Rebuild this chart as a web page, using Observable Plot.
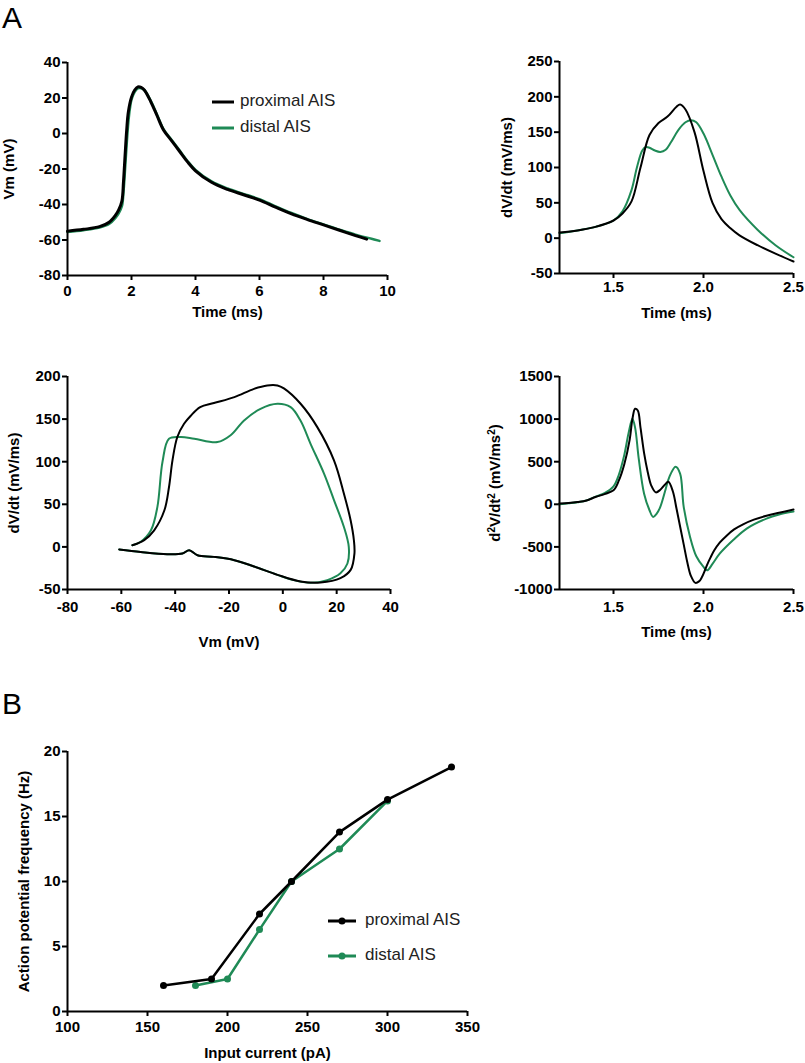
<!DOCTYPE html>
<html><head><meta charset="utf-8">
<script src="https://cdn.jsdelivr.net/npm/d3@7"></script>
<script src="https://cdn.jsdelivr.net/npm/@observablehq/plot@0.6"></script>
<style>
body{margin:0;background:#fff;}
#fig{position:relative;width:805px;height:1063px;font-family:"Liberation Sans",Arial,sans-serif;overflow:hidden;}
.lbl{position:absolute;font-size:30px;line-height:30px;color:#000;}
.leg{position:absolute;font-size:17px;line-height:20px;color:#222;white-space:nowrap;}
</style></head><body><div id="fig"></div><script>
// ---------- Panel A1: Vm vs time ----------
const vmTimeProx = [0, 0.5, 1.0, 1.3, 1.5, 1.6, 1.7, 1.75, 1.8, 1.85, 1.9, 2.0, 2.1, 2.2, 2.3, 2.4, 2.6, 2.8, 3.0, 3.25, 3.5, 3.75, 4.0, 4.5, 5.0, 5.5, 6.0, 6.5, 7.0, 7.5, 8.0, 8.5, 9.0, 9.35];
const vmProx = [-55, -54, -52.5, -50, -46, -43, -38, -27, -12, 2, 12, 20.5, 24.5, 26.3, 26, 24.5, 18, 10, 2, -4, -10, -16, -21, -27.5, -31.5, -34.5, -37.5, -41.5, -45.3, -48.5, -51.5, -54.5, -57.5, -59.5];
const vmTimeDist = [0, 0.5, 1.0, 1.3, 1.5, 1.6, 1.7, 1.75, 1.8, 1.85, 1.9, 1.95, 2.0, 2.1, 2.2, 2.3, 2.4, 2.6, 2.8, 3.0, 3.25, 3.5, 3.75, 4.0, 4.5, 5.0, 5.5, 6.0, 6.5, 7.0, 7.5, 8.0, 8.5, 9.0, 9.5, 9.75];
const vmDist = [-55.5, -54.5, -53, -51, -47.5, -45, -41, -33, -20, -6, 6, 14, 19, 23.5, 25.5, 25.5, 24.5, 18.5, 10.5, 2.5, -3.5, -9.5, -15.5, -20.5, -27, -31, -34, -37, -41, -44.8, -48.2, -51.2, -54.2, -57, -59.3, -60.5];
const vmXTicks = [0, 2, 4, 6, 8, 10];
const vmYTicks = [-80, -60, -40, -20, 0, 20, 40];

// ---------- Panel A2: dV/dt vs time ----------
const dvTimeProx = [1.2, 1.3, 1.4, 1.5, 1.55, 1.6, 1.65, 1.7, 1.75, 1.8, 1.85, 1.87, 1.9, 1.95, 2.0, 2.05, 2.1, 2.15, 2.2, 2.3, 2.4, 2.5];
const dvProx = [8, 11, 16, 25, 35, 52, 100, 146, 163, 172, 186, 189, 182, 150, 95, 50, 27, 14, 4, -10, -22, -33];
const dvTimeDist = [1.2, 1.3, 1.4, 1.5, 1.55, 1.6, 1.63, 1.66, 1.68, 1.7, 1.73, 1.76, 1.79, 1.82, 1.86, 1.9, 1.93, 1.96, 2.0, 2.05, 2.1, 2.15, 2.2, 2.3, 2.4, 2.5];
const dvDist = [7, 11, 16, 25, 38, 68, 100, 124, 129, 128, 124, 122, 125, 136, 153, 164, 167, 164, 148, 118, 87, 60, 40, 12, -10, -27];
const timeXTicks = [1.5, 2.0, 2.5];
const dvYTicks = [-50, 0, 50, 100, 150, 200, 250];

// ---------- Panel A3: phase plot ----------
const phVProx = [-55.9, -51.5, -47.8, -44, -42.3, -41, -39.2, -36.7, -34.2, -30.7, -25.6, -18, -10.7, -5.8, -2, 0.4, 6.6, 12.8, 19, 22.7, 25.2, 26.4, 26.6, 25.2, 21.4, 14, 6.6, -2, -10.7, -18, -25.6, -31.7, -34.8, -37.3, -43, -52.8, -60.8];
const phDProx = [2, 8, 19.5, 43, 70, 101.6, 129, 144.5, 154, 164, 168.8, 175.8, 185.5, 189.5, 189.5, 186, 168, 140.6, 101.6, 62.5, 31, 7.8, -7.8, -27, -36.7, -41.8, -40.6, -32.8, -23, -15.6, -11.7, -9.8, -4, -7.8, -8.6, -6, -3];
const phVDist = [-55.9, -52.8, -49, -46.6, -44.7, -42.3, -37.9, -32.9, -24.3, -19.4, -14.4, -8.3, -2, 2.9, 6.6, 10.3, 15.3, 19, 22.7, 24.5, 24, 21.4, 16.5, 10.3, 4, -2, -10.7, -18, -25.6, -31.7, -34.8, -37.3, -43, -52.8, -60.8];
const phDDist = [2, 6, 19.5, 47, 100, 127, 129, 127, 123, 131, 148.4, 162, 168, 164, 148, 121, 86, 55, 23.4, 0, -19.5, -31, -39, -42, -39, -32.8, -23, -15.6, -11.7, -9.8, -4, -7.8, -8.6, -6, -3];
const phXTicks = [-80, -60, -40, -20, 0, 20, 40];
const phYTicks = [-50, 0, 50, 100, 150, 200];

// ---------- Panel A4: d2V/dt2 vs time ----------
const d2TimeProx = [1.2, 1.25, 1.3, 1.35, 1.4, 1.45, 1.5, 1.53, 1.56, 1.59, 1.605, 1.62, 1.635, 1.65, 1.67, 1.69, 1.71, 1.735, 1.76, 1.785, 1.805, 1.83, 1.85, 1.87, 1.89, 1.91, 1.93, 1.955, 1.975, 1.99, 2.005, 2.02, 2.04, 2.06, 2.09, 2.13, 2.17, 2.22, 2.28, 2.35, 2.42, 2.5];
const d2Prox = [8, 15, 27, 45, 86, 120, 164, 280, 470, 760, 1000, 1121, 1100, 900, 600, 380, 220, 140, 170, 230, 265, 150, -50, -260, -470, -680, -840, -922, -905, -860, -790, -710, -620, -540, -450, -365, -295, -235, -180, -135, -100, -62];
const d2TimeDist = [1.2, 1.25, 1.3, 1.35, 1.4, 1.45, 1.5, 1.53, 1.56, 1.585, 1.605, 1.62, 1.64, 1.67, 1.7, 1.72, 1.74, 1.76, 1.79, 1.81, 1.845, 1.87, 1.89, 1.925, 1.96, 2.0, 2.02, 2.05, 2.09, 2.165, 2.24, 2.35, 2.42, 2.5];
const d2Dist = [0, 12, 25, 45, 90, 130, 210, 350, 580, 850, 1004, 900, 540, 125, -70, -148, -110, -30, 180, 320, 440, 360, -30, -380, -610, -735, -775, -700, -580, -420, -285, -168, -120, -85];
const d2YTicks = [-1000, -500, 0, 500, 1000, 1500];

// ---------- Panel B: frequency vs current ----------
const fiCurrentProx = [160, 190, 220, 240, 270, 300, 340];
const fiFreqProx = [2, 2.5, 7.5, 10, 13.8, 16.3, 18.8];
const fiCurrentDist = [180, 200, 220, 240, 270, 300];
const fiFreqDist = [2, 2.5, 6.3, 10, 12.5, 16.2];
const fiXTicks = [100, 150, 200, 250, 300, 350];
const fiYTicks = [0, 5, 10, 15, 20];

const seriesNames = ["proximal AIS", "distal AIS"];
const BLACK = "#000";
const GREEN = "#1f8a56";
const FONT = "'Liberation Sans', Arial, sans-serif";

const pts = (xs, ys) => xs.map((x, i) => ({x, y: ys[i]}));
const fig = document.getElementById("fig");

function panel(o) {
  const svg = Plot.plot({
    width: o.width, height: o.height,
    marginLeft: o.ml, marginRight: o.mr, marginTop: o.mt, marginBottom: o.mb,
    style: {fontFamily: FONT, fontSize: "15px", fontWeight: "bold", background: "transparent", color: "#000", overflow: "visible"},
    x: {domain: o.xDomain},
    y: {domain: o.yDomain},
    marks: [
      Plot.axisX({ticks: o.xTicks, tickFormat: o.xFormat || (d => String(d)), tickSize: 5, tickPadding: o.xPad ?? 4, strokeWidth: 2, label: null}),
      Plot.axisY({ticks: o.yTicks, tickFormat: d => String(d), tickSize: 5, tickPadding: 2, strokeWidth: 2, label: null}),
      ...o.marks,
      Plot.ruleX([o.xDomain[0]], {strokeWidth: 2, stroke: "#000"}),
      Plot.ruleY([o.yDomain[0]], {strokeWidth: 2, stroke: "#000"}),
      Plot.text([o.xTitle], {text: d => d, frameAnchor: "bottom", dy: o.xTitleDy, lineAnchor: "middle", textAnchor: "middle", fontSize: 15, fontWeight: "bold"}),
      Plot.text([o.yTitle], {text: d => d, frameAnchor: "left", dx: o.yTitleDx, rotate: -90, lineAnchor: "middle", textAnchor: "middle", fontSize: 15, fontWeight: "bold"})
    ]
  });
  svg.style.position = "absolute";
  svg.style.left = o.left + "px";
  svg.style.top = o.top + "px";
  // render "²" as true superscripts
  d3.select(svg).selectAll("text").each(function() {
    const t = this.textContent;
    if (!t.includes("²")) return;
    const sel = d3.select(this);
    sel.text(null);
    t.split(/(²)/).forEach(part => {
      if (!part) return;
      if (part === "²") sel.append("tspan").attr("baseline-shift", "super").attr("font-size", "10px").text("2");
      else sel.append("tspan").text(part);
    });
  });
  fig.appendChild(svg);
}

function addDiv(cls, left, top, html) {
  const d = document.createElement("div");
  d.className = cls;
  d.style.left = left + "px";
  d.style.top = top + "px";
  d.innerHTML = html;
  fig.appendChild(d);
}

// Panel A1
panel({left: 0, top: 40, width: 400, height: 290, ml: 67, mr: 13, mt: 22, mb: 55,
  xDomain: [0, 10], yDomain: [-80, 40], xTicks: vmXTicks, yTicks: vmYTicks, xPad: 5,
  xTitle: "Time (ms)", xTitleDy: 37, yTitle: "Vm (mV)", yTitleDx: -58,
  marks: [
    Plot.line(pts(vmTimeDist, vmDist), {x: "x", y: "y", stroke: GREEN, strokeWidth: 2.5, curve: "catmull-rom"}),
    Plot.line(pts(vmTimeProx, vmProx), {x: "x", y: "y", stroke: BLACK, strokeWidth: 3, curve: "catmull-rom"})
  ]});

// Panel A2
panel({left: 480, top: 40, width: 325, height: 290, ml: 79, mr: 12, mt: 21, mb: 57,
  xDomain: [1.2, 2.5], yDomain: [-50, 250], xTicks: timeXTicks, yTicks: dvYTicks, xFormat: d => d.toFixed(1), xPad: 3,
  xTitle: "Time (ms)", xTitleDy: 40, yTitle: "dV/dt (mV/ms)", yTitleDx: -52,
  marks: [
    Plot.line(pts(dvTimeDist, dvDist), {x: "x", y: "y", stroke: GREEN, strokeWidth: 2, curve: "catmull-rom"}),
    Plot.line(pts(dvTimeProx, dvProx), {x: "x", y: "y", stroke: BLACK, strokeWidth: 2, curve: "catmull-rom"})
  ]});

// Panel A3
panel({left: 0, top: 360, width: 400, height: 300, ml: 67, mr: 10, mt: 16, mb: 71,
  xDomain: [-80, 40], yDomain: [-50, 200], xTicks: phXTicks, yTicks: phYTicks, xPad: 7,
  xTitle: "Vm (mV)", xTitleDy: 53, yTitle: "dV/dt (mV/ms)", yTitleDx: -53,
  marks: [
    Plot.line(pts(phVDist, phDDist), {x: "x", y: "y", stroke: GREEN, strokeWidth: 2, curve: "catmull-rom"}),
    Plot.line(pts(phVProx, phDProx), {x: "x", y: "y", stroke: BLACK, strokeWidth: 2, curve: "catmull-rom"})
  ]});

// Panel A4
panel({left: 480, top: 360, width: 325, height: 300, ml: 79, mr: 12, mt: 16, mb: 71,
  xDomain: [1.2, 2.5], yDomain: [-1000, 1500], xTicks: timeXTicks, yTicks: d2YTicks, xFormat: d => d.toFixed(1), xPad: 7,
  xTitle: "Time (ms)", xTitleDy: 43, yTitle: "d²V/dt² (mV/ms²)", yTitleDx: -64,
  marks: [
    Plot.line(pts(d2TimeDist, d2Dist), {x: "x", y: "y", stroke: GREEN, strokeWidth: 2, curve: "catmull-rom"}),
    Plot.line(pts(d2TimeProx, d2Prox), {x: "x", y: "y", stroke: BLACK, strokeWidth: 2, curve: "catmull-rom"})
  ]});

// Panel B
panel({left: 0, top: 700, width: 500, height: 363, ml: 67, mr: 33, mt: 51, mb: 52,
  xDomain: [100, 350], yDomain: [0, 20], xTicks: fiXTicks, yTicks: fiYTicks, xPad: 5,
  xTitle: "Input current (pA)", xTitleDy: 42, yTitle: "Action potential frequency (Hz)", yTitleDx: -43,
  marks: [
    Plot.line(pts(fiCurrentDist, fiFreqDist), {x: "x", y: "y", stroke: GREEN, strokeWidth: 2.5}),
    Plot.dot(pts(fiCurrentDist, fiFreqDist), {x: "x", y: "y", fill: GREEN, r: 3.5}),
    Plot.line(pts(fiCurrentProx, fiFreqProx), {x: "x", y: "y", stroke: BLACK, strokeWidth: 2.5}),
    Plot.dot(pts(fiCurrentProx, fiFreqProx), {x: "x", y: "y", fill: BLACK, r: 3.5})
  ]});

// Panel letters
addDiv("lbl", 2, 3, "A");
addDiv("lbl", 2, 689, "B");

// Legends
const lineSw = (c) => `<svg width="22" height="6" style="vertical-align:middle"><line x1="0" y1="3" x2="22" y2="3" stroke="${c}" stroke-width="3"/></svg>`;
const dotSw = (c) => `<svg width="28" height="10" style="vertical-align:middle"><line x1="0" y1="5" x2="28" y2="5" stroke="${c}" stroke-width="3"/><circle cx="14" cy="5" r="3.5" fill="${c}"/></svg>`;
addDiv("leg", 212, 91, `${lineSw(BLACK)}<span style="margin-left:6px">${seriesNames[0]}</span>`);
addDiv("leg", 212, 117, `${lineSw(GREEN)}<span style="margin-left:6px">${seriesNames[1]}</span>`);
addDiv("leg", 328, 910, `${dotSw(BLACK)}<span style="margin-left:9px">${seriesNames[0]}</span>`);
addDiv("leg", 328, 945, `${dotSw(GREEN)}<span style="margin-left:9px">${seriesNames[1]}</span>`);
</script></body></html>
